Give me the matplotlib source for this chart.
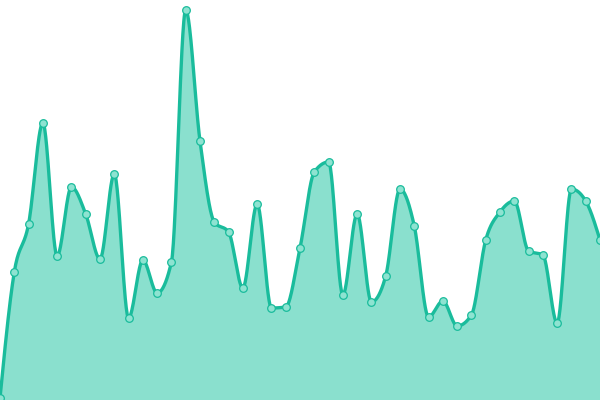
import numpy as np
from matplotlib import pyplot as plt

# values (pixel height from bottom, 0..400)
values = [2, 128, 176, 277, 144, 213, 186, 141, 226, 82,
          140, 107, 138, 390, 259, 178, 168, 112, 196, 92,
          93, 152, 228, 238, 105, 186, 98, 124, 211, 174,
          83, 99, 74, 85, 160, 188, 199, 149, 145, 77,
          211, 199, 160]

LINE = '#1abc9c'
FILL = '#8ae0ce'
MARK = '#8ee3d1'


def monotone_x(x, y, n=30):
    # same idea as d3.curveMonotoneX
    x = np.asarray(x, float)
    y = np.asarray(y, float)
    h = np.diff(x)
    s = np.diff(y) / h
    t = np.zeros(len(x))
    for i in range(1, len(x) - 1):
        p = (s[i-1] * h[i] + s[i] * h[i-1]) / (h[i-1] + h[i])
        t[i] = (np.sign(s[i-1]) + np.sign(s[i])) * min(abs(s[i-1]), abs(s[i]), 0.5 * abs(p))
    t[0] = (3 * s[0] - t[1]) / 2
    t[-1] = (3 * s[-1] - t[-2]) / 2
    xs, ys = [], []
    for i in range(len(x) - 1):
        u = np.linspace(0, 1, n, endpoint=False)
        dx = h[i]
        p0, p3 = y[i], y[i+1]
        p1 = y[i] + dx * t[i] / 3
        p2 = y[i+1] - dx * t[i+1] / 3
        xs.append(x[i] + dx * u)
        ys.append((1-u)**3*p0 + 3*(1-u)**2*u*p1 + 3*(1-u)*u**2*p2 + u**3*p3)
    xs.append([x[-1]])
    ys.append([y[-1]])
    return np.concatenate(xs), np.concatenate(ys)


def main():
    idx = np.arange(len(values))
    cx, cy = monotone_x(idx, values)

    fig = plt.figure(figsize=(6, 4), dpi=100)
    ax = fig.add_axes([0, 0, 1, 1])
    ax.fill_between(cx, cy, 0, color=FILL, linewidth=0)
    ax.plot(cx, cy, color=LINE, linewidth=2.4, solid_capstyle='round')
    ax.plot(idx, values, 'o', markersize=5.5, markerfacecolor=MARK,
            markeredgecolor=LINE, markeredgewidth=0.9)
    ax.set_xlim(0, len(values) - 1)
    ax.set_ylim(0, 400)
    ax.axis('off')
    fig.savefig('out.png')


if __name__ == "__main__":
    main()
